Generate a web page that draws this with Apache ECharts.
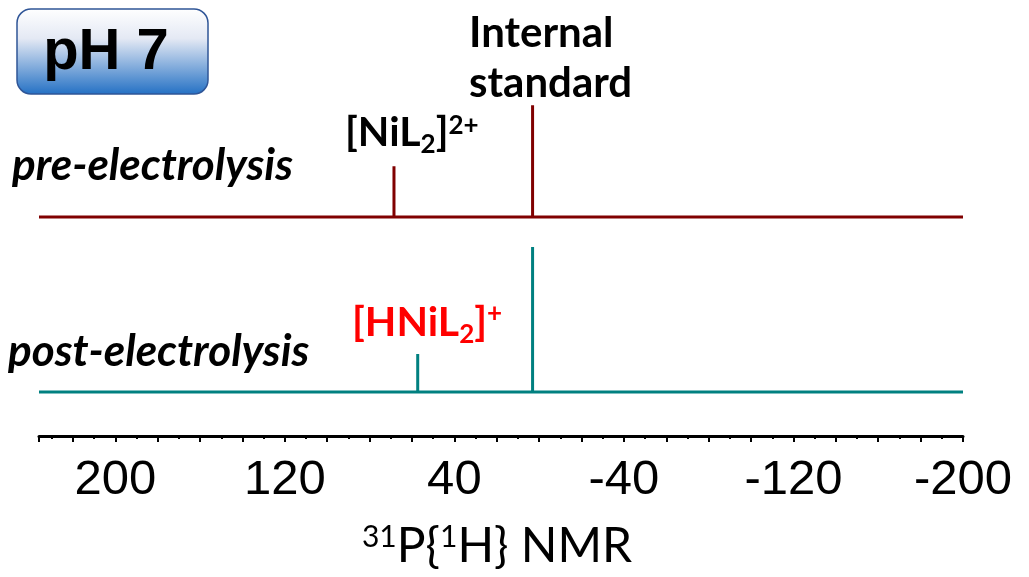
<!DOCTYPE html>
<html>
<head>
<meta charset="utf-8">
<script src="https://cdn.jsdelivr.net/npm/echarts@6/dist/echarts.min.js"></script>
<style>html,body{margin:0;padding:0;background:#fff}#main{width:1029px;height:577px}</style>
</head>
<body>
<div id="main"></div>
<script>
// chemical shift (ppm) and relative height of each peak
var prePeaks = [68.5, 3.1];
var preHeights = [0.35, 0.77];
var postPeaks = [57.3, 3.1];
var postHeights = [0.262, 1.0];
var xRange = [-200, 236];
var tickLabels = [200, 120, 40, -40, -120, -200];

function spectrum(peaks, heights) {
  var pts = [[xRange[1], 0]];
  for (var i = 0; i < peaks.length; i++) {
    pts.push([peaks[i], 0], [peaks[i], heights[i]], [peaks[i], 0]);
  }
  pts.push([xRange[0], 0]);
  return pts;
}

var chartDom = document.getElementById('main');
var myChart = echarts.init(chartDom);
var option;

var boxFill = new echarts.graphic.LinearGradient(0, 0, 0, 1, [
  {offset: 0, color: '#ffffff'},
  {offset: 0.35, color: '#e4e9f4'},
  {offset: 1, color: '#2370c4'}
]);

option = {
  animation: false,
  grid: [
    {left: 39, right: 66, top: 72, bottom: 360},
    {left: 39, right: 66, top: 247, bottom: 185}
  ],
  xAxis: [
    {gridIndex: 0, type: 'value', inverse: true, min: xRange[0], max: xRange[1], show: false},
    {
      gridIndex: 1, type: 'value', inverse: true,
      min: xRange[0], max: xRange[1], interval: 20, offset: 44,
      axisLine: {onZero: false, lineStyle: {color: '#000', width: 3}},
      axisTick: {length: 6, lineStyle: {color: '#000', width: 2}},
      minorTick: {show: true, splitNumber: 2, length: 3, lineStyle: {color: '#000', width: 2}},
      splitLine: {show: false},
      axisLabel: {
        fontSize: 49, fontFamily: 'Liberation Sans', color: '#000', margin: 20,
        formatter: function (v) { return tickLabels.indexOf(v) >= 0 ? String(v) : ''; }
      }
    }
  ],
  yAxis: [
    {gridIndex: 0, type: 'value', min: 0, max: 1, show: false},
    {gridIndex: 1, type: 'value', min: 0, max: 1, show: false}
  ],
  series: [
    {
      type: 'line', xAxisIndex: 0, yAxisIndex: 0, data: spectrum(prePeaks, preHeights),
      showSymbol: false, clip: false, lineStyle: {color: '#800000', width: 3}
    },
    {
      type: 'line', xAxisIndex: 1, yAxisIndex: 1, data: spectrum(postPeaks, postHeights),
      showSymbol: false, clip: false, lineStyle: {color: '#008080', width: 3}
    }
  ],
  graphic: [
    {type: 'rect', shape: {x: 17, y: 9, width: 191, height: 85, r: 14},
      style: {fill: boxFill, stroke: '#2f5597', lineWidth: 1.5}},
    {type: 'text', x: 106, y: 53,
      style: {text: 'pH 7', align: 'center', verticalAlign: 'middle', fontSize: 58,
        fontWeight: 'bold', fontFamily: 'Liberation Sans', fill: '#000'}},
    {type: 'text', x: 469, y: 33,
      style: {text: 'Internal', align: 'left', verticalAlign: 'middle', fontSize: 42,
        fontWeight: 'bold', fontFamily: 'Lato', fill: '#000'}},
    {type: 'text', x: 469, y: 83,
      style: {text: 'standard', align: 'left', verticalAlign: 'middle', fontSize: 42,
        fontWeight: 'bold', fontFamily: 'Lato', fill: '#000'}},
    {type: 'text', x: 12, y: 166,
      style: {text: 'pre-electrolysis', align: 'left', verticalAlign: 'middle', fontSize: 44,
        fontWeight: 'bold', fontStyle: 'italic', fontFamily: 'Lato', fill: '#000'}},
    {type: 'text', x: 8, y: 352,
      style: {text: 'post-electrolysis', align: 'left', verticalAlign: 'middle', fontSize: 44,
        fontWeight: 'bold', fontStyle: 'italic', fontFamily: 'Lato', fill: '#000'}},
    {type: 'text', x: 345, y: 108,
      style: {
        text: '{m|[NiL}{sub|2}{m|]}{sup|2+}', align: 'left', verticalAlign: 'top',
        fontFamily: 'Lato', fontWeight: 'bold', fill: '#000',
        rich: {
          m: {fontSize: 41, lineHeight: 50, fontWeight: 'bold', fontFamily: 'Lato', fill: '#000'},
          sub: {fontSize: 26, lineHeight: 26, verticalAlign: 'bottom', padding: [0, 0, 0, 0], fontWeight: 'bold', fontFamily: 'Lato', fill: '#000'},
          sup: {fontSize: 26, lineHeight: 26, verticalAlign: 'top', padding: [5, 0, 0, 0], fontWeight: 'bold', fontFamily: 'Lato', fill: '#000'}
        }
      }},
    {type: 'text', x: 352, y: 298,
      style: {
        text: '{m|[HNiL}{sub|2}{m|]}{sup|+}', align: 'left', verticalAlign: 'top',
        fontFamily: 'Lato', fontWeight: 'bold', fill: '#ff0000',
        rich: {
          m: {fontSize: 41, lineHeight: 50, fontWeight: 'bold', fontFamily: 'Lato', fill: '#ff0000'},
          sub: {fontSize: 26, lineHeight: 26, verticalAlign: 'bottom', padding: [0, 0, 0, 0], fontWeight: 'bold', fontFamily: 'Lato', fill: '#ff0000'},
          sup: {fontSize: 26, lineHeight: 26, verticalAlign: 'top', padding: [3, 0, 0, 0], fontWeight: 'bold', fontFamily: 'Lato', fill: '#ff0000'}
        }
      }},
    {type: 'text', x: 497, y: 518,
      style: {
        text: '{s|31}{m|P{}{s|1}H} NMR', align: 'center', verticalAlign: 'top',
        fontFamily: 'Lato', fontSize: 48, lineHeight: 58, fill: '#000',
        rich: {
          m: {fontSize: 48, lineHeight: 58, fontFamily: 'Lato', fill: '#000'},
          s: {fontSize: 30, lineHeight: 30, verticalAlign: 'top', padding: [4, 0, 0, 0], fontFamily: 'Lato', fill: '#000'}
        }
      }}
  ]
};

option && myChart.setOption(option);
</script>
</body>
</html>
